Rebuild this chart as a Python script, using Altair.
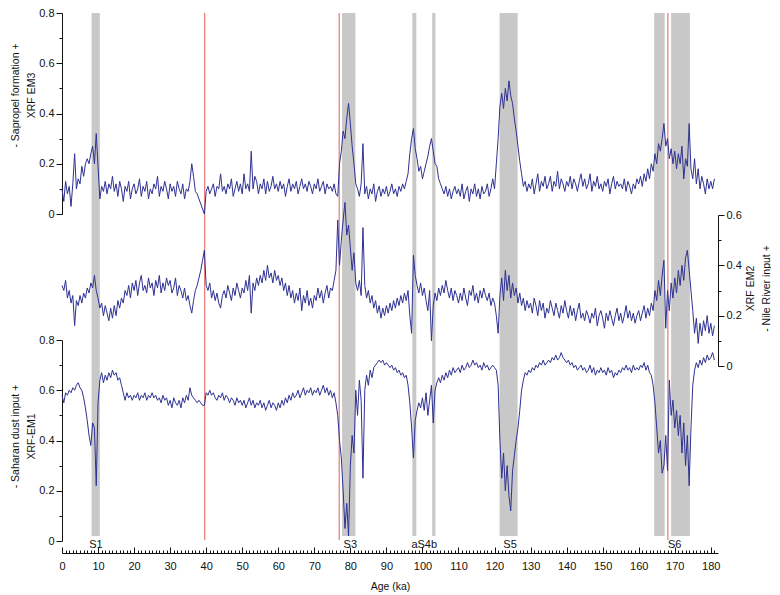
import altair as alt
import pandas as pd

# ---------------- data (0.5 ka steps from 0 ka) ----------------
STEP_KA = 0.5

EM3_ROWS = [
    [0.10, 0.05, 0.13, 0.08, 0.11, 0.03, 0.12, 0.24, 0.10, 0.14],
    [0.12, 0.19, 0.15, 0.20, 0.22, 0.20, 0.24, 0.27, 0.20, 0.32],
    [0.19, 0.06, 0.11, 0.09, 0.13, 0.08, 0.12, 0.10, 0.15, 0.09],
    [0.12, 0.07, 0.13, 0.10, 0.05, 0.11, 0.09, 0.13, 0.06, 0.10],
    [0.12, 0.08, 0.10, 0.14, 0.07, 0.11, 0.09, 0.13, 0.06, 0.10],
    [0.08, 0.12, 0.10, 0.15, 0.07, 0.11, 0.09, 0.13, 0.10, 0.06],
    [0.12, 0.09, 0.11, 0.07, 0.13, 0.10, 0.08, 0.12, 0.06, 0.10],
    [0.09, 0.13, 0.20, 0.15, 0.09, 0.08, 0.06, 0.04, 0.02, 0.00],
    [0.09, 0.11, 0.08, 0.10, 0.12, 0.07, 0.11, 0.10, 0.16, 0.09],
    [0.11, 0.08, 0.12, 0.10, 0.14, 0.07, 0.10, 0.13, 0.09, 0.12],
    [0.08, 0.16, 0.10, 0.12, 0.09, 0.25, 0.10, 0.15, 0.13, 0.08],
    [0.12, 0.10, 0.14, 0.08, 0.13, 0.09, 0.11, 0.15, 0.10, 0.12],
    [0.09, 0.13, 0.10, 0.12, 0.07, 0.11, 0.14, 0.09, 0.12, 0.10],
    [0.13, 0.08, 0.11, 0.14, 0.10, 0.12, 0.09, 0.13, 0.11, 0.08],
    [0.12, 0.10, 0.14, 0.09, 0.11, 0.13, 0.08, 0.12, 0.10, 0.11],
    [0.09, 0.12, 0.08, 0.07, 0.20, 0.25, 0.33, 0.30, 0.38, 0.44],
    [0.36, 0.27, 0.20, 0.12, 0.10, 0.07, 0.12, 0.28, 0.08, 0.11],
    [0.06, 0.10, 0.08, 0.12, 0.05, 0.09, 0.11, 0.07, 0.10, 0.08],
    [0.11, 0.07, 0.09, 0.12, 0.08, 0.10, 0.07, 0.11, 0.09, 0.12],
    [0.10, 0.13, 0.16, 0.24, 0.30, 0.34, 0.26, 0.22, 0.17, 0.19],
    [0.14, 0.17, 0.20, 0.23, 0.27, 0.30, 0.25, 0.20, 0.19, 0.14],
    [0.12, 0.10, 0.08, 0.11, 0.07, 0.10, 0.06, 0.09, 0.11, 0.08],
    [0.10, 0.07, 0.12, 0.06, 0.09, 0.11, 0.05, 0.10, 0.08, 0.12],
    [0.07, 0.10, 0.06, 0.11, 0.08, 0.09, 0.12, 0.07, 0.10, 0.14],
    [0.10, 0.20, 0.30, 0.43, 0.48, 0.42, 0.50, 0.45, 0.53, 0.47],
    [0.44, 0.38, 0.33, 0.27, 0.21, 0.16, 0.11, 0.13, 0.09, 0.12],
    [0.10, 0.14, 0.08, 0.12, 0.16, 0.09, 0.13, 0.11, 0.15, 0.10],
    [0.12, 0.15, 0.09, 0.13, 0.11, 0.17, 0.10, 0.14, 0.12, 0.09],
    [0.13, 0.11, 0.15, 0.10, 0.14, 0.12, 0.09, 0.13, 0.16, 0.11],
    [0.14, 0.10, 0.12, 0.16, 0.09, 0.13, 0.11, 0.15, 0.10, 0.12],
    [0.09, 0.13, 0.11, 0.14, 0.08, 0.12, 0.15, 0.10, 0.13, 0.11],
    [0.12, 0.10, 0.14, 0.09, 0.13, 0.11, 0.08, 0.12, 0.10, 0.14],
    [0.12, 0.15, 0.11, 0.16, 0.13, 0.18, 0.14, 0.20, 0.17, 0.24],
    [0.20, 0.28, 0.25, 0.30, 0.36, 0.27, 0.30, 0.22, 0.26, 0.20],
    [0.25, 0.18, 0.24, 0.20, 0.27, 0.14, 0.22, 0.19, 0.36, 0.18],
    [0.14, 0.22, 0.12, 0.18, 0.10, 0.15, 0.12, 0.08, 0.14, 0.10],
    [0.13, 0.10, 0.14],
]

EM2_ROWS = [
    [0.32, 0.30, 0.34, 0.27, 0.30, 0.25, 0.28, 0.16, 0.26, 0.24],
    [0.28, 0.25, 0.29, 0.27, 0.31, 0.29, 0.33, 0.31, 0.36, 0.30],
    [0.27, 0.23, 0.25, 0.20, 0.24, 0.21, 0.18, 0.23, 0.19, 0.24],
    [0.20, 0.26, 0.23, 0.27, 0.25, 0.30, 0.28, 0.32, 0.27, 0.33],
    [0.30, 0.34, 0.28, 0.33, 0.36, 0.30, 0.32, 0.29, 0.35, 0.31],
    [0.33, 0.28, 0.34, 0.31, 0.36, 0.29, 0.33, 0.30, 0.35, 0.32],
    [0.34, 0.29, 0.31, 0.35, 0.28, 0.32, 0.30, 0.27, 0.31, 0.26],
    [0.28, 0.24, 0.21, 0.26, 0.30, 0.32, 0.35, 0.38, 0.42, 0.46],
    [0.32, 0.30, 0.33, 0.27, 0.30, 0.26, 0.29, 0.25, 0.23, 0.28],
    [0.30, 0.27, 0.32, 0.29, 0.26, 0.31, 0.28, 0.33, 0.30, 0.27],
    [0.31, 0.29, 0.34, 0.30, 0.36, 0.21, 0.33, 0.30, 0.35, 0.32],
    [0.36, 0.33, 0.38, 0.34, 0.40, 0.35, 0.37, 0.33, 0.38, 0.34],
    [0.36, 0.32, 0.35, 0.30, 0.33, 0.28, 0.32, 0.27, 0.30, 0.25],
    [0.29, 0.26, 0.31, 0.22, 0.28, 0.25, 0.30, 0.24, 0.27, 0.23],
    [0.28, 0.26, 0.31, 0.27, 0.30, 0.25, 0.29, 0.32, 0.27, 0.31],
    [0.30, 0.34, 0.38, 0.58, 0.40, 0.50, 0.58, 0.65, 0.52, 0.56],
    [0.47, 0.38, 0.45, 0.33, 0.30, 0.34, 0.28, 0.55, 0.32, 0.27],
    [0.30, 0.25, 0.28, 0.23, 0.26, 0.21, 0.24, 0.19, 0.23, 0.20],
    [0.24, 0.21, 0.25, 0.22, 0.26, 0.23, 0.27, 0.24, 0.28, 0.25],
    [0.29, 0.26, 0.30, 0.20, 0.13, 0.44, 0.36, 0.32, 0.29, 0.33],
    [0.28, 0.31, 0.26, 0.22, 0.30, 0.10, 0.24, 0.29, 0.26, 0.31],
    [0.28, 0.32, 0.29, 0.34, 0.30, 0.27, 0.31, 0.26, 0.30, 0.28],
    [0.25, 0.29, 0.26, 0.31, 0.27, 0.24, 0.30, 0.28, 0.32, 0.26],
    [0.29, 0.25, 0.30, 0.27, 0.31, 0.28, 0.26, 0.29, 0.24, 0.27],
    [0.25, 0.20, 0.13, 0.28, 0.35, 0.26, 0.38, 0.30, 0.36, 0.27],
    [0.33, 0.28, 0.31, 0.25, 0.29, 0.24, 0.27, 0.22, 0.26, 0.23],
    [0.25, 0.21, 0.27, 0.24, 0.20, 0.26, 0.22, 0.25, 0.19, 0.23],
    [0.21, 0.26, 0.23, 0.20, 0.25, 0.22, 0.19, 0.24, 0.21, 0.26],
    [0.22, 0.19, 0.24, 0.20, 0.23, 0.18, 0.22, 0.25, 0.19, 0.21],
    [0.18, 0.22, 0.20, 0.17, 0.21, 0.19, 0.23, 0.16, 0.20, 0.22],
    [0.19, 0.15, 0.21, 0.18, 0.22, 0.19, 0.16, 0.20, 0.23, 0.18],
    [0.21, 0.17, 0.20, 0.24, 0.19, 0.22, 0.18, 0.21, 0.17, 0.20],
    [0.22, 0.18, 0.21, 0.24, 0.19, 0.23, 0.20, 0.25, 0.22, 0.30],
    [0.26, 0.34, 0.28, 0.36, 0.42, 0.15, 0.30, 0.22, 0.33, 0.27],
    [0.35, 0.29, 0.38, 0.32, 0.40, 0.34, 0.43, 0.46, 0.38, 0.30],
    [0.22, 0.13, 0.19, 0.09, 0.17, 0.12, 0.18, 0.14, 0.20, 0.13],
    [0.17, 0.12, 0.16],
]

EM1_ROWS = [
    [0.58, 0.55, 0.59, 0.58, 0.60, 0.59, 0.61, 0.60, 0.62, 0.63],
    [0.61, 0.60, 0.57, 0.53, 0.48, 0.42, 0.38, 0.47, 0.45, 0.22],
    [0.55, 0.64, 0.67, 0.63, 0.66, 0.64, 0.67, 0.65, 0.68, 0.66],
    [0.67, 0.64, 0.65, 0.62, 0.59, 0.56, 0.59, 0.57, 0.58, 0.56],
    [0.58, 0.57, 0.59, 0.56, 0.58, 0.57, 0.59, 0.56, 0.58, 0.57],
    [0.59, 0.57, 0.58, 0.56, 0.57, 0.55, 0.58, 0.56, 0.57, 0.54],
    [0.56, 0.53, 0.57, 0.55, 0.54, 0.56, 0.53, 0.57, 0.55, 0.58],
    [0.56, 0.61, 0.58, 0.57, 0.56, 0.55, 0.56, 0.55, 0.54, 0.54],
    [0.59, 0.58, 0.60, 0.58, 0.59, 0.57, 0.56, 0.58, 0.57, 0.59],
    [0.56, 0.58, 0.57, 0.55, 0.57, 0.56, 0.54, 0.57, 0.55, 0.56],
    [0.54, 0.56, 0.53, 0.55, 0.57, 0.54, 0.56, 0.53, 0.55, 0.54],
    [0.56, 0.53, 0.55, 0.52, 0.54, 0.56, 0.53, 0.55, 0.54, 0.52],
    [0.55, 0.53, 0.56, 0.54, 0.57, 0.55, 0.58, 0.56, 0.59, 0.57],
    [0.58, 0.60, 0.57, 0.59, 0.61, 0.58, 0.60, 0.59, 0.61, 0.58],
    [0.60, 0.59, 0.61, 0.58, 0.60, 0.62, 0.59, 0.61, 0.58, 0.60],
    [0.57, 0.59, 0.55, 0.50, 0.40, 0.33, 0.20, 0.05, 0.15, 0.02],
    [0.30, 0.42, 0.35, 0.60, 0.50, 0.64, 0.56, 0.25, 0.60, 0.66],
    [0.62, 0.68, 0.65, 0.69, 0.70, 0.71, 0.72, 0.71, 0.72, 0.70],
    [0.71, 0.70, 0.69, 0.70, 0.68, 0.69, 0.67, 0.68, 0.66, 0.67],
    [0.65, 0.66, 0.62, 0.55, 0.45, 0.33, 0.48, 0.52, 0.55, 0.53],
    [0.57, 0.52, 0.59, 0.50, 0.56, 0.62, 0.47, 0.60, 0.63, 0.65],
    [0.63, 0.66, 0.64, 0.67, 0.65, 0.68, 0.66, 0.69, 0.67, 0.68],
    [0.69, 0.67, 0.70, 0.68, 0.69, 0.71, 0.69, 0.70, 0.72, 0.70],
    [0.71, 0.69, 0.70, 0.68, 0.71, 0.69, 0.70, 0.68, 0.69, 0.70],
    [0.69, 0.68, 0.62, 0.40, 0.25, 0.35, 0.20, 0.30, 0.18, 0.12],
    [0.28, 0.34, 0.40, 0.45, 0.52, 0.60, 0.64, 0.67, 0.66, 0.68],
    [0.67, 0.69, 0.68, 0.70, 0.69, 0.71, 0.70, 0.72, 0.70, 0.71],
    [0.72, 0.71, 0.73, 0.72, 0.74, 0.72, 0.73, 0.75, 0.73, 0.72],
    [0.71, 0.72, 0.70, 0.71, 0.69, 0.70, 0.68, 0.69, 0.70, 0.68],
    [0.69, 0.67, 0.68, 0.70, 0.67, 0.69, 0.66, 0.68, 0.67, 0.69],
    [0.67, 0.68, 0.66, 0.69, 0.67, 0.68, 0.65, 0.67, 0.66, 0.68],
    [0.67, 0.69, 0.68, 0.70, 0.68, 0.69, 0.67, 0.70, 0.68, 0.69],
    [0.68, 0.70, 0.69, 0.71, 0.68, 0.70, 0.67, 0.66, 0.62, 0.55],
    [0.45, 0.35, 0.40, 0.27, 0.30, 0.42, 0.28, 0.64, 0.50, 0.56],
    [0.45, 0.52, 0.42, 0.50, 0.35, 0.47, 0.30, 0.42, 0.22, 0.45],
    [0.62, 0.68, 0.71, 0.69, 0.72, 0.70, 0.73, 0.71, 0.74, 0.72],
    [0.73, 0.75, 0.72],
]

BAND_START = [8.2, 77.7, 97.2, 102.7, 121.4, 164.3, 169.0]
BAND_END = [10.5, 81.4, 98.3, 103.6, 126.4, 167.2, 174.2]
LABEL_TEXT = ["S1", "S3", "aS4b", "S5", "S6"]
LABEL_AGE = [9.4, 80.0, 100.5, 124.3, 170.0]
RED_AGE = [39.6, 76.9, 168.1]
X_TICKS_MAJOR = list(range(0, 181, 10))
X_TICKS_ALL = list(range(0, 182))
Y8_TICKS = [0, 0.1, 0.2, 0.3, 0.4, 0.5, 0.6, 0.7, 0.8]
Y6_TICKS = [0, 0.1, 0.2, 0.3, 0.4, 0.5, 0.6]


def series(rows):
    vals = [v for r in rows for v in r]
    return pd.DataFrame({"age": [i * STEP_KA for i in range(len(vals))], "v": vals})


df3 = series(EM3_ROWS)
df2 = series(EM2_ROWS)
df1 = series(EM1_ROWS)
bands_df = pd.DataFrame({"start": BAND_START, "end": BAND_END})
labels_df = pd.DataFrame({"age": LABEL_AGE, "label": LABEL_TEXT})
red_df = pd.DataFrame({"age": RED_AGE})
tick_df = pd.DataFrame({"age": X_TICKS_MAJOR})

# ---------------- layout / style ----------------
W, H = 656, 540
BLUE = "#2e3192"
RED = "#e35d5d"
GREY = "#c8c8c8"
INK = "#111111"
FONT = "Liberation Sans"

X = alt.Scale(domain=[0, 182], nice=False, zero=False)

minor_y_test = "round(datum.value * 10) % 2 == 0"
y_label_expr = "round(datum.value * 10) % 2 == 0 ? format(datum.value, '~g') : ''"
y_tick_size = {"condition": {"test": minor_y_test, "value": 6}, "value": 3}
x_tick_size = {"condition": {"test": "datum.value % 10 == 0", "value": 6}, "value": 3}


def y_axis(orient, values, title, **kw):
    return alt.Axis(
        orient=orient, values=values, labelExpr=y_label_expr, tickSize=y_tick_size,
        title=title, titleLineHeight=16, labelPadding=2,
        labelFlush=False, labelOverlap=False, grid=False, **kw)


bands = alt.Chart(bands_df).mark_rect(color=GREY).encode(
    x=alt.X("start:Q", scale=X, axis=alt.Axis(
        orient="bottom", values=X_TICKS_MAJOR, ticks=False, tickSize=0, domain=False,
        labelPadding=7, labelFlush=False, labelOverlap=False, title="Age (ka)",
        titlePadding=10, grid=False)),
    x2="end:Q",
    y=alt.value(0),
    y2=alt.value(523),
)

# invisible carrier for the tick axis (ticks pointing up from the base line)
ticks_axis = alt.Chart(tick_df).mark_point(opacity=0, size=1).encode(
    x=alt.X("age:Q", scale=X, axis=alt.Axis(
        orient="top", offset=-H, values=X_TICKS_ALL, labels=False, title=None,
        tickSize=x_tick_size, grid=False)),
    y=alt.value(H),
)

em3 = alt.Chart(df3).mark_line(color=BLUE, strokeWidth=1).encode(
    x=alt.X("age:Q", scale=X, axis=None),
    y=alt.Y("v:Q", scale=alt.Scale(domain=[0, 0.8], range=[201, 0], nice=False, zero=False),
            axis=y_axis("left", Y8_TICKS, ["-  Sapropel formation  +", "XRF EM3"],
                        titleY=82, titlePadding=2)),
)

em2 = alt.Chart(df2).mark_line(color=BLUE, strokeWidth=1).encode(
    x=alt.X("age:Q", scale=X, axis=None),
    y=alt.Y("v:Q", scale=alt.Scale(domain=[0, 0.6], range=[353, 202], nice=False, zero=False),
            axis=y_axis("right", Y6_TICKS, ["XRF EM2", "-  Nile River input  +"],
                        titleAngle=270, titleBaseline="top", titleX=27, titleY=275)),
)

em1 = alt.Chart(df1).mark_line(color=BLUE, strokeWidth=1).encode(
    x=alt.X("age:Q", scale=X, axis=None),
    y=alt.Y("v:Q", scale=alt.Scale(domain=[0, 0.8], range=[528, 327], nice=False, zero=False),
            axis=y_axis("left", Y8_TICKS, ["-  Saharan dust input  +", "XRF-EM1"],
                        titleY=423, titlePadding=2)),
)

reds = alt.Chart(red_df).mark_rule(stroke=RED, strokeWidth=1).encode(
    x=alt.X("age:Q", scale=X, axis=None),
    y=alt.value(0),
    y2=alt.value(527),
)

labels = alt.Chart(labels_df).mark_text(
    font=FONT, fontSize=11, baseline="middle", align="center", color=INK
).encode(
    x=alt.X("age:Q", scale=X, axis=None),
    y=alt.value(532),
    text="label:N",
)

chart = alt.layer(bands, reds, ticks_axis, em3, em2, em1, labels).resolve_scale(
    y="independent"
).resolve_axis(
    x="independent", y="independent"
).properties(
    width=W, height=H,
    padding={"left": 54, "top": 5, "right": 53, "bottom": 42},
    autosize=alt.AutoSizeParams(type="none"),
).configure_view(stroke=None).configure_axis(
    labelFont=FONT, labelFontSize=11, labelColor=INK,
    titleFont=FONT, titleFontSize=10.5, titleFontWeight="normal", titleColor=INK,
    domainColor=INK, tickColor=INK, domainWidth=1, tickWidth=1,
)

chart.save("out.html", embed_options={"renderer": "svg", "actions": False})
